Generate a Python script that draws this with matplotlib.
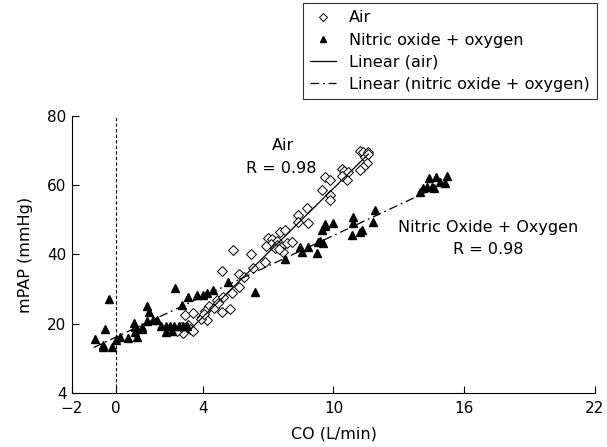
import numpy as np
import matplotlib.pyplot as plt
from matplotlib.lines import Line2D

# -------------------------------------
# data
# -------------------------------------

air_co = [2.95, 3.27, 3.1, 3.32, 3.4, 3.55, 2.8, 3.0,
          3.18, 3.55, 3.96, 4.19, 4.88, 5.25, 4.65, 4.93, 5.34, 4.3, 4.5, 4.1, 3.9, 4.7, 4.05,
          5.37, 6.2, 4.88, 5.66, 6.85, 5.66, 5.9, 6.3,
          7.0, 7.2, 7.4, 7.13, 7.4, 7.6, 7.86, 8.09, 7.68, 7.54, 7.77, 7.3, 6.9, 7.5,
          8.37, 8.78, 8.37, 8.83,
          9.47, 9.6, 9.83, 9.83, 9.83,
          10.37, 10.5, 10.66, 10.6, 10.37,
          11.2, 11.34, 11.58, 11.44, 11.53, 11.35, 11.2, 11.6]
air_pap = [18.2, 19.1, 17.3, 19.7, 18.5, 18.0, 17.8, 19.0,
           22.5, 23.1, 22.0, 21.1, 23.4, 24.3, 26.9, 27.7, 28.9, 25.0, 24.5, 23.8, 21.5, 26.0, 22.8,
           41.3, 40.2, 35.3, 34.4, 37.9, 30.6, 33.5, 36.0,
           44.8, 44.4, 44.0, 43.1, 42.7, 42.2, 43.3, 43.6, 40.8, 46.5, 47.1, 42.0, 42.5, 41.5,
           51.4, 53.5, 49.4, 49.1,
           58.7, 62.4, 61.6, 57.2, 55.8,
           64.7, 64.2, 63.9, 61.6, 62.8,
           70.0, 69.6, 69.7, 68.2, 66.5, 65.3, 64.4, 69.0]

no_co = [-0.94, -0.49, -0.3, -0.58, -0.6, -0.17, 0.02, 0.2,
         0.57, 1.0, 0.9, 0.85, 0.9, 1.2, 1.2, 1.43, 1.44, 1.53, 1.72, 1.88,
         2.1, 2.3, 2.5, 2.7, 2.9, 3.1, 3.3, 2.3, 2.6,
         2.73, 3.32, 3.05,
         3.73, 4.0, 4.2, 4.47, 5.16, 6.4,
         7.77, 8.46, 8.55, 8.83, 9.24, 9.28, 9.4, 9.5, 9.47, 9.6, 9.97, 9.6,
         10.9, 10.9, 10.85, 11.2, 11.9, 11.8, 11.3,
         14.4, 14.7, 14.9, 15.2, 15.1, 14.1, 14.3, 14.5, 14.6, 13.96]
no_pap = [15.6, 18.5, 27.2, 13.9, 13.3, 13.3, 15.3, 16.2,
          15.9, 16.2, 17.6, 20.2, 19.2, 19.1, 18.4, 20.8, 25.1, 23.4, 21.1, 21.1,
          19.3, 19.3, 19.3, 19.3, 19.3, 19.3, 19.3, 17.6, 18.0,
          30.3, 27.8, 25.4,
          28.3, 28.3, 28.9, 29.8, 32.1, 29.2,
          38.7, 42.2, 40.8, 42.2, 40.5, 43.6, 43.8, 43.3, 47.1, 48.3, 49.1, 48.8,
          50.9, 49.0, 45.7, 46.5, 52.9, 49.4, 47.1,
          62.1, 62.4, 61.0, 62.7, 60.7, 59.2, 59.5, 59.4, 59.2, 58.1]

# regression lines as drawn: slope, intercept, x range
air_fit = (6.2, -2.9)
air_fit_range = [3.3, 11.6]
no_fit = (2.94, 16.1)
no_fit_range = [-1.0, 15.0]

x_ticks = [-2, 0, 4, 10, 16, 22]
y_ticks = [0, 20, 40, 60, 80]
y_tick_labels = ["4", "20", "40", "60", "80"]

# -------------------------------------
# figure
# -------------------------------------

plt.rcParams['font.family'] = ['DejaVu Sans']

fig = plt.figure(figsize=(6.07, 4.47), dpi=100)
ax = fig.add_axes([72 / 607, 1 - 393 / 447, (595 - 72) / 607, (393 - 116) / 447])

ax.plot(air_co, air_pap, linestyle='none', marker='D', markersize=5.5,
        markerfacecolor='white', markeredgecolor='black', markeredgewidth=0.7)
ax.plot(no_co, no_pap, linestyle='none', marker='^', markersize=5.5,
        color='black')

xa = np.array(air_fit_range)
ax.plot(xa, air_fit[0] * xa + air_fit[1], color='black', lw=0.9)
xn = np.array(no_fit_range)
ax.plot(xn, no_fit[0] * xn + no_fit[1], color='black', lw=0.9,
        dashes=(7, 3, 1.5, 3))

ax.axvline(0, ymin=0, ymax=1, color='black', lw=0.8, dashes=(3, 2))

ax.set_xlim(-2, 22)
ax.set_ylim(0, 80)
ax.set_xticks(x_ticks)
ax.set_yticks(y_ticks)
ax.set_yticklabels(y_tick_labels)
ax.tick_params(direction='in', length=5, width=0.8, labelsize=11, pad=4)
ax.tick_params(axis='x', pad=6)
for side in ['top', 'right']:
    ax.spines[side].set_visible(False)
for side in ['left', 'bottom']:
    ax.spines[side].set_linewidth(0.8)

ax.set_xlabel("CO (L/min)", fontsize=11.5, labelpad=7)
ax.set_ylabel("mPAP (mmHg)", fontsize=11.5, labelpad=10)

ax.text(7.7, 71.6, "Air", ha='center', va='center', fontsize=11.5)
ax.text(7.6, 64.9, "R = 0.98", ha='center', va='center', fontsize=11.5)
ax.text(17.1, 47.7, "Nitric Oxide + Oxygen", ha='center', va='center', fontsize=11.5)
ax.text(17.1, 41.3, "R = 0.98", ha='center', va='center', fontsize=11.5)

handles = [
    Line2D([], [], linestyle='none', marker='D', markersize=4,
           markerfacecolor='white', markeredgecolor='black', markeredgewidth=0.7),
    Line2D([], [], linestyle='none', marker='^', markersize=4, color='black'),
    Line2D([], [], color='black', lw=0.9),
    Line2D([], [], color='black', lw=0.9, dashes=(7, 3, 1.5, 3)),
]
labels = ["Air", "Nitric oxide + oxygen", "Linear (air)",
          "Linear (nitric oxide + oxygen)"]
leg = fig.legend(handles, labels, loc='upper left',
                 bbox_to_anchor=(303 / 607, 1 - 3 / 447), fontsize=11.6,
                 frameon=True, fancybox=False, handlelength=1.6,
                 handletextpad=0.8, labelspacing=0.45, borderpad=0.45,
                 borderaxespad=0)
leg.get_frame().set_edgecolor('black')
leg.get_frame().set_linewidth(0.8)

fig.savefig('out.png', dpi=100)
